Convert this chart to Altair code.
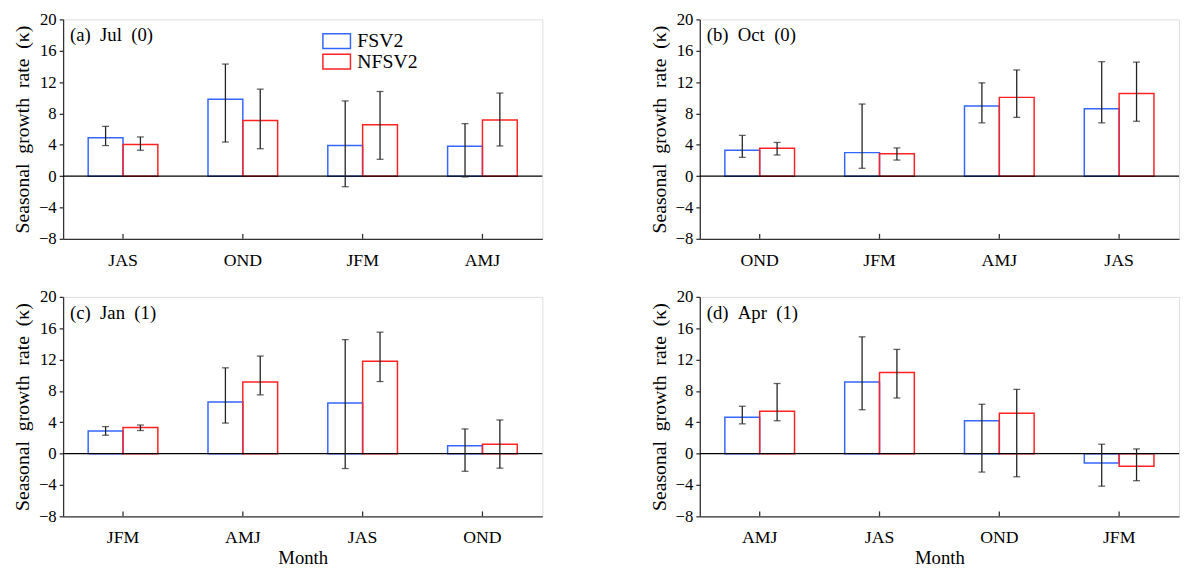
import altair as alt
import pandas as pd

# ---------------- data ----------------
series_names = ["FSV2", "NFSV2"]

months_a = ["JAS", "OND", "JFM", "AMJ"]
fsv2_a = [4.9, 9.8, 3.9, 3.8]
fsv2_a_lo = [3.9, 4.35, -1.35, -0.1]
fsv2_a_hi = [6.35, 14.3, 9.6, 6.7]
nfsv2_a = [4.05, 7.1, 6.55, 7.15]
nfsv2_a_lo = [3.3, 3.5, 2.15, 3.85]
nfsv2_a_hi = [5.0, 11.1, 10.8, 10.6]

months_b = ["OND", "JFM", "AMJ", "JAS"]
fsv2_b = [3.3, 3.0, 8.95, 8.6]
fsv2_b_lo = [2.4, 1.0, 6.8, 6.8]
fsv2_b_hi = [5.2, 9.2, 11.9, 14.6]
nfsv2_b = [3.55, 2.85, 10.05, 10.55]
nfsv2_b_lo = [2.7, 2.05, 7.5, 7.0]
nfsv2_b_hi = [4.3, 3.6, 13.55, 14.55]

months_c = ["JFM", "AMJ", "JAS", "OND"]
fsv2_c = [2.9, 6.6, 6.45, 1.0]
fsv2_c_lo = [2.35, 3.9, -1.9, -2.25]
fsv2_c_hi = [3.45, 10.95, 14.55, 3.15]
nfsv2_c = [3.35, 9.15, 11.8, 1.2]
nfsv2_c_lo = [2.95, 7.5, 9.2, -1.85]
nfsv2_c_hi = [3.65, 12.45, 15.5, 4.3]

months_d = ["AMJ", "JAS", "OND", "JFM"]
fsv2_d = [4.65, 9.15, 4.2, -1.2]
fsv2_d_lo = [3.8, 5.6, -2.35, -4.15]
fsv2_d_hi = [6.05, 14.9, 6.3, 1.2]
nfsv2_d = [5.4, 10.35, 5.15, -1.6]
nfsv2_d_lo = [4.2, 7.1, -2.95, -3.45]
nfsv2_d_hi = [8.95, 13.3, 8.2, 0.6]

labels = ["(a)\u00a0\u00a0Jul\u00a0\u00a0(0)", "(b)\u00a0\u00a0Oct\u00a0\u00a0(0)",
          "(c)\u00a0\u00a0Jan\u00a0\u00a0(1)", "(d)\u00a0\u00a0Apr\u00a0\u00a0(1)"]
y_ticks = [-8, -4, 0, 4, 8, 12, 16, 20]

# ---------------- style ----------------
W, H = 487, 223
FONT = "Liberation Serif"
BLUE, RED = "#3366ff", "#ff2222"
AX = "#333333"


def panel(months, f, flo, fhi, n, nlo, nhi, label, show_legend, show_xtitle):
    rows = []
    for i, m in enumerate(months):
        rows.append(dict(month=m, series="FSV2", value=f[i], lo=flo[i], hi=fhi[i]))
        rows.append(dict(month=m, series="NFSV2", value=n[i], lo=nlo[i], hi=nhi[i]))
    df = pd.DataFrame(rows)
    base = alt.Chart(df)

    xscale = alt.Scale(domain=months, paddingInner=0, paddingOuter=0)
    xaxis = alt.Axis(title="Month" if show_xtitle else None, labelAngle=0,
                     ticks=False, tickSize=0, labelPadding=13,
                     labelFont=FONT, labelFontSize=18, labelColor="black",
                     titleFont=FONT, titleFontSize=19, titleFontWeight="normal",
                     titleColor="black", titlePadding=2,
                     domainColor=AX, domainWidth=1.3, grid=False)
    xoff = alt.XOffset("series:N", scale=alt.Scale(domain=series_names,
                                                    paddingInner=0, paddingOuter=0.72))
    yscale = alt.Scale(domain=[-8, 20], nice=False)
    yaxis = alt.Axis(values=y_ticks, title="Seasonal\u2002growth\u2002rate\u2002(\u03ba)",
                     tickSize=4, tickColor=AX, tickWidth=1.3, labelPadding=3,
                     labelOverlap=False, labelFlush=False, labelBound=False,
                     labelFont=FONT, labelFontSize=17, labelColor="black",
                     titleFont=FONT, titleFontSize=20, titleFontWeight="normal",
                     titleColor="black", titlePadding=6,
                     domainColor=AX, domainWidth=1.3, grid=False)

    def X(field="month"):
        return alt.X(f"{field}:N", scale=xscale, axis=xaxis)

    def Y(field):
        return alt.Y(f"{field}:Q", scale=yscale, axis=yaxis)

    if show_legend:
        legend = alt.Legend(orient="none", legendX=268, legendY=12, title=None,
                            symbolType="M-2,-1.072H2V1.072H-2Z", symbolSize=196,
                            symbolStrokeWidth=1.5, labelFont=FONT, labelFontSize=20,
                            labelColor="black", labelOffset=11, rowPadding=-4)
    else:
        legend = None

    bars = base.mark_bar(filled=False, strokeWidth=1.5).encode(
        x=X(), xOffset=xoff, y=Y("value"),
        color=alt.Color("series:N", scale=alt.Scale(domain=series_names, range=[BLUE, RED]),
                        legend=legend),
    )
    err = base.mark_rule(color="#222222", strokeWidth=1.3).encode(
        x=X(), xOffset=xoff, y=Y("lo"), y2="hi:Q")
    cap_lo = base.mark_tick(color="#222222", thickness=1.3, size=7).encode(
        x=X(), xOffset=xoff, y=Y("lo"))
    cap_hi = base.mark_tick(color="#222222", thickness=1.3, size=7).encode(
        x=X(), xOffset=xoff, y=Y("hi"))

    zero = alt.Chart(pd.DataFrame({"z": [0]})).mark_rule(color="black", strokeWidth=1.3).encode(
        y=Y("z"))
    xticks = alt.Chart(pd.DataFrame({"month": months})).mark_rule(color=AX, strokeWidth=1.3).encode(
        x=X(), y=alt.value(H), y2=alt.value(H - 5))
    txt = alt.Chart(pd.DataFrame({"t": [label]})).mark_text(
        align="left", baseline="middle", font=FONT, fontSize=19, color="black").encode(
        x=alt.value(7), y=alt.value(16), text="t:N")

    return alt.layer(bars, zero, err, cap_lo, cap_hi, xticks, txt).properties(
        width=W, height=H).resolve_scale(color="independent")


pa = panel(months_a, fsv2_a, fsv2_a_lo, fsv2_a_hi, nfsv2_a, nfsv2_a_lo, nfsv2_a_hi, labels[0], True, False)
pb = panel(months_b, fsv2_b, fsv2_b_lo, fsv2_b_hi, nfsv2_b, nfsv2_b_lo, nfsv2_b_hi, labels[1], False, False)
pc = panel(months_c, fsv2_c, fsv2_c_lo, fsv2_c_hi, nfsv2_c, nfsv2_c_lo, nfsv2_c_hi, labels[2], False, True)
pd_ = panel(months_d, fsv2_d, fsv2_d_lo, fsv2_d_hi, nfsv2_d, nfsv2_d_lo, nfsv2_d_hi, labels[3], False, True)

top = alt.hconcat(pa, pb, spacing=106).resolve_scale(color="independent")
bottom = alt.hconcat(pc, pd_, spacing=106).resolve_scale(color="independent")

chart = alt.vconcat(top, bottom, spacing=17).resolve_scale(color="independent").properties(
    padding={"left": 4, "top": -3, "right": 0, "bottom": 0}
).configure_view(stroke=None).configure_axis(
    labelFont=FONT, titleFont=FONT
).configure_legend(labelFont=FONT).configure_text(font=FONT).configure(background="white")

chart.save("out.html", embed_options={"renderer": "svg", "actions": False})
